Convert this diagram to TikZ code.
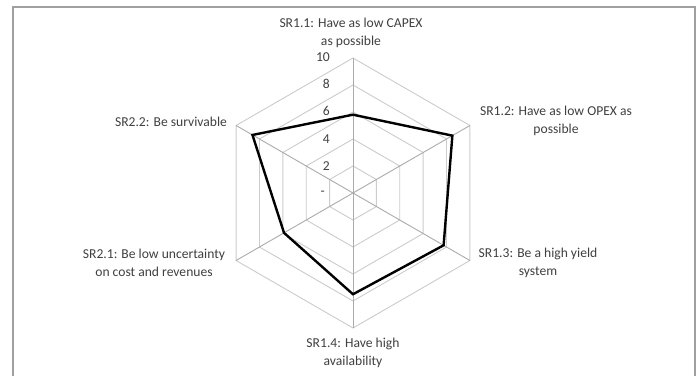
\documentclass[tikz,border=0pt]{standalone}
\usepackage{fontspec}
\setmainfont{Carlito}
\definecolor{txt}{HTML}{404040}
\definecolor{grid}{HTML}{CCCCCC}
\definecolor{spoke}{HTML}{ABABAB}
\definecolor{frame}{HTML}{A0A0A0}
\begin{document}
\begin{tikzpicture}[x=1pt,y=-1pt,
  lbl/.style={text=txt,font=\fontsize{13.6}{17.5}\selectfont,align=center,inner sep=0pt},
  tick/.style={text=txt,font=\fontsize{13.6}{15}\selectfont,anchor=east,inner sep=0pt},
  gridline/.style={draw=grid,line width=0.9pt},
  spokeline/.style={draw=spoke,line width=0.9pt},
  dataline/.style={draw=black,line width=2.4pt,line join=miter}]
\useasboundingbox (0,0) rectangle (699,375);
\fill[white] (0,0) rectangle (699,375);
\draw[frame,line width=1.5pt] (13,380) -- (13,7) -- (695,7) -- (695,380);
\def\cx{353}\def\cy{193}\def\R{13.5}
% grid rings
\foreach \v in {2,4,6,8,10}{
  \draw[gridline] ({\cx+\v*\R*cos(90)},{\cy-\v*\R*sin(90)})
    \foreach \a in {30,-30,-90,-150,150}{ -- ({\cx+\v*\R*cos(\a)},{\cy-\v*\R*sin(\a)}) } -- cycle;
}
% spokes
\coordinate (c) at (\cx,\cy);
\foreach \a/\n in {90/a1,30/a2,-30/a3,-90/a4,-150/a5,150/a6}{
  \coordinate (\n) at ({\cx+10*\R*cos(\a)},{\cy-10*\R*sin(\a)});
  \draw[spokeline] (c) -- (\n);
}
% data
\coordinate (d1) at ({\cx+5.8*\R*cos(90)},{\cy-5.8*\R*sin(90)});
\coordinate (d2) at ({\cx+8.5*\R*cos(30)},{\cy-8.5*\R*sin(30)});
\coordinate (d3) at ({\cx+7.75*\R*cos(-30)},{\cy-7.75*\R*sin(-30)});
\coordinate (d4) at ({\cx+7.5*\R*cos(-90)},{\cy-7.5*\R*sin(-90)});
\coordinate (d5) at ({\cx+5.9*\R*cos(-150)},{\cy-5.9*\R*sin(-150)});
\coordinate (d6) at ({\cx+8.6*\R*cos(150)},{\cy-8.6*\R*sin(150)});
\draw[dataline] (d1) -- (d2) -- (d3) -- (d4) -- (d5) -- (d6) -- cycle;
% ticks
\node[tick] (t10) at (330,57) {10};
\node[tick] (t8) at (330,84) {8};
\node[tick] (t6) at (330,111) {6};
\node[tick] (t4) at (330,139) {4};
\node[tick] (t2) at (330,166) {2};
\node[tick] (t0) at (325,193) {-};
% labels
\node[lbl] (l1) at (351,33) {SR1.1: Have as low CAPEX\\as possible};
\node[lbl] (l2) at (556,121) {SR1.2: Have as low OPEX as\\possible};
\node[lbl] (l3) at (538,263) {SR1.3: Be a high yield\\system};
\node[lbl] (l4) at (353,353) {SR1.4: Have high\\availability};
\node[lbl] (l5) at (154,263) {SR2.1: Be low uncertainty\\on cost and revenues};
\node[lbl] (l6) at (171,122) {SR2.2: Be survivable};
\end{tikzpicture}
\end{document}
